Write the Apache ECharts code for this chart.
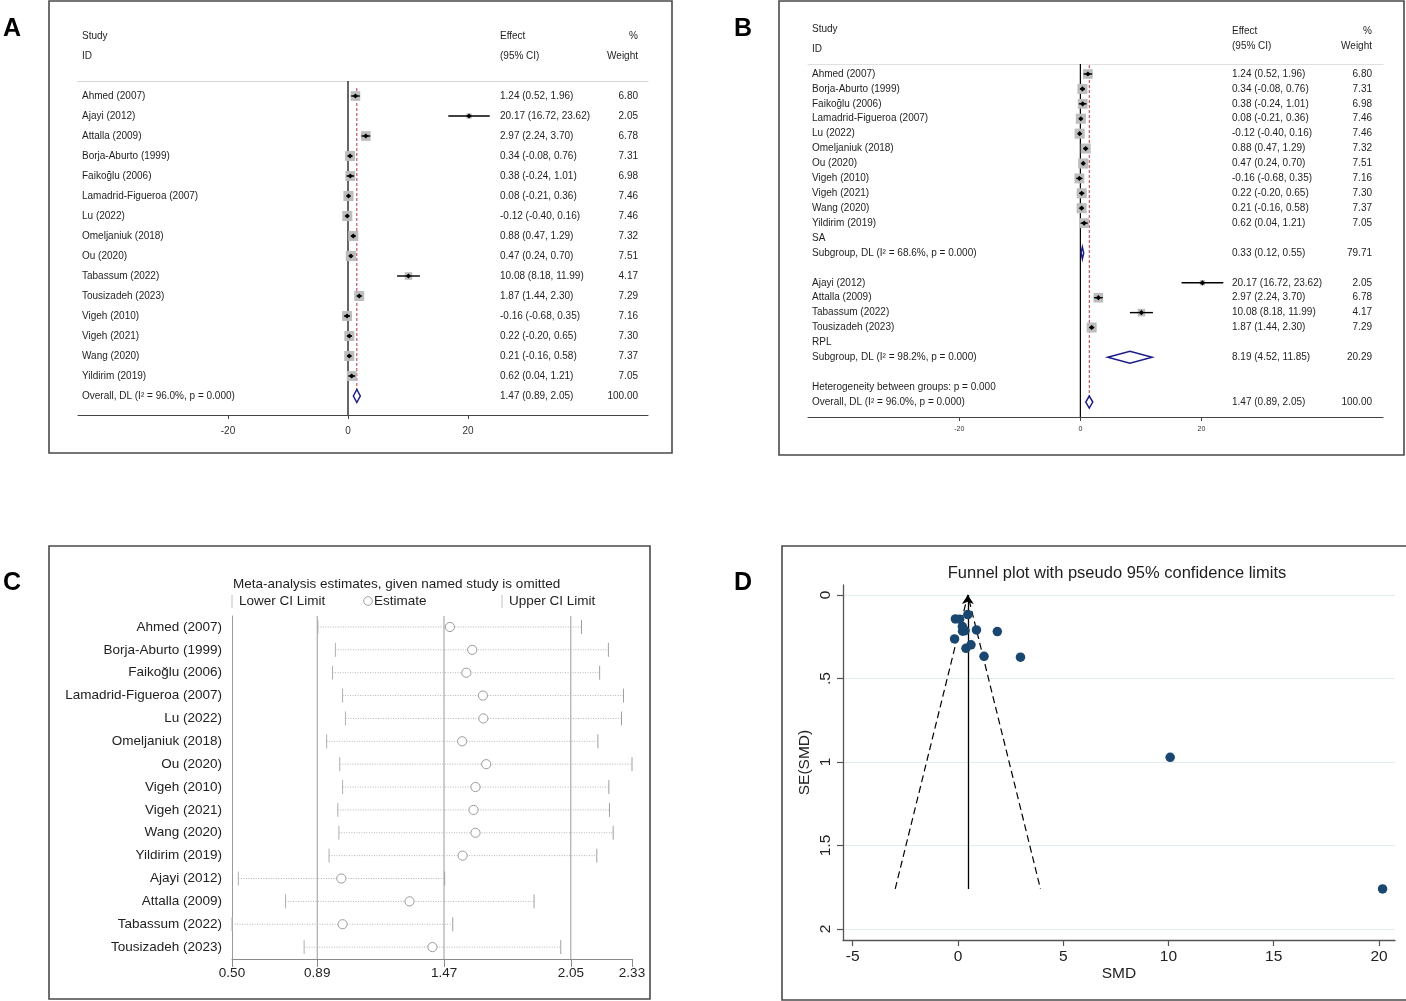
<!DOCTYPE html>
<html><head><meta charset="utf-8">
<script src="https://cdn.jsdelivr.net/npm/echarts@6/dist/echarts.min.js"></script>
<style>html,body{margin:0;padding:0;background:#fff}#c{width:1406px;height:1001px}</style>
</head><body><div id="c"></div><script>
// ---------------- DATA ----------------
const studies = ['Ahmed (2007)','Ajayi (2012)','Attalla (2009)','Borja-Aburto (1999)','Faikoğlu (2006)','Lamadrid-Figueroa (2007)','Lu (2022)','Omeljaniuk (2018)','Ou (2020)','Tabassum (2022)','Tousizadeh (2023)','Vigeh (2010)','Vigeh (2021)','Wang (2020)','Yildirim (2019)'];
const effect = [1.24,20.17,2.97,0.34,0.38,0.08,-0.12,0.88,0.47,10.08,1.87,-0.16,0.22,0.21,0.62];
const ciLow  = [0.52,16.72,2.24,-0.08,-0.24,-0.21,-0.40,0.47,0.24,8.18,1.44,-0.68,-0.20,-0.16,0.04];
const ciHigh = [1.96,23.62,3.70,0.76,1.01,0.36,0.16,1.29,0.70,11.99,2.30,0.35,0.65,0.58,1.21];
const weight = [6.80,2.05,6.78,7.31,6.98,7.46,7.46,7.32,7.51,4.17,7.29,7.16,7.30,7.37,7.05];
const overallLabel = 'Overall, DL (I² = 96.0%, p = 0.000)';
const overallVals = [1.47, 0.89, 2.05, 100.00]; // effect, low, high, weight
const groupSA = ['Ahmed (2007)','Borja-Aburto (1999)','Faikoğlu (2006)','Lamadrid-Figueroa (2007)','Lu (2022)','Omeljaniuk (2018)','Ou (2020)','Vigeh (2010)','Vigeh (2021)','Wang (2020)','Yildirim (2019)'];
const subSALabel = 'Subgroup, DL (I² = 68.6%, p = 0.000)';
const subSAVals = [0.33, 0.12, 0.55, 79.71];
const groupRPL = ['Ajayi (2012)','Attalla (2009)','Tabassum (2022)','Tousizadeh (2023)'];
const subRPLLabel = 'Subgroup, DL (I² = 98.2%, p = 0.000)';
const subRPLVals = [8.19, 4.52, 11.85, 20.29];
const hetLabel = 'Heterogeneity between groups: p = 0.000';
const forestTicks = [-20, 0, 20];

// leave-one-out (panel C)
const looNames = ['Ahmed (2007)','Borja-Aburto (1999)','Faikoğlu (2006)','Lamadrid-Figueroa (2007)','Lu (2022)','Omeljaniuk (2018)','Ou (2020)','Vigeh (2010)','Vigeh (2021)','Wang (2020)','Yildirim (2019)','Ajayi (2012)','Attalla (2009)','Tabassum (2022)','Tousizadeh (2023)'];
const looEst  = [1.497,1.599,1.572,1.648,1.650,1.553,1.663,1.614,1.605,1.614,1.555,1.000,1.312,1.006,1.417];
const looLow  = [0.893,0.973,0.960,1.006,1.019,0.933,0.993,1.006,0.984,0.989,0.944,0.529,0.745,0.500,0.830];
const looHigh = [2.099,2.222,2.182,2.291,2.282,2.174,2.330,2.224,2.227,2.244,2.169,1.473,1.882,1.510,2.004];
const looTicks = [0.50, 0.89, 1.47, 2.05, 2.33];

// funnel (panel D)
const funnelSE = [0.367,1.760,0.372,0.214,0.319,0.145,0.143,0.209,0.117,0.972,0.219,0.263,0.217,0.189,0.298];
const funnelCenter = 0.47;
const funnelLimX = [-2.98, 0.47, 3.92];
const funnelLimSE = [1.76, 0, 1.76];
const funnelXTicks = [-5,0,5,10,15,20];
const funnelYTicks = [0,0.5,1,1.5,2];

// ---------------- BUILD ----------------
const FONT = '"Liberation Sans", Arial, sans-serif';
const f2 = v => v.toFixed(2);
const mk = (name, v, kind) => ({name, es:v[0], lo:v[1], hi:v[2], w:v[3], kind});
const rowsA = studies.map((n,i)=>mk(n,[effect[i],ciLow[i],ciHigh[i],weight[i]],0));
rowsA.push(mk(overallLabel, overallVals, 1));
const rowsB = [];
groupSA.forEach(n=>rowsB.push(rowsA[studies.indexOf(n)]));
rowsB.push({name:'SA'});
rowsB.push(mk(subSALabel, subSAVals, 1));
rowsB.push({name:''});
groupRPL.forEach(n=>rowsB.push(rowsA[studies.indexOf(n)]));
rowsB.push({name:'RPL'});
rowsB.push(mk(subRPLLabel, subRPLVals, 1));
rowsB.push({name:''});
rowsB.push({name:hetLabel});
rowsB.push(mk(overallLabel, overallVals, 1));

const effTxt = r => (r && r.es != null) ? `${f2(r.es)} (${f2(r.lo)}, ${f2(r.hi)})` : '';
const wTxt = r => (r && r.w != null) ? f2(r.w) : '';
const range = n => Array.from({length:n},(_,i)=>i);

function forestRender(boxK, dHalf){
  return function(params, api){
    const row = api.value(0), es = api.value(1), lo = api.value(2), hi = api.value(3), w = api.value(4), kind = api.value(5);
    const c = api.coord([es,row]), l = api.coord([lo,row]), h = api.coord([hi,row]);
    if (kind === 1) {
      return {type:'polygon', shape:{points:[[l[0],c[1]],[c[0],c[1]-dHalf],[h[0],c[1]],[c[0],c[1]+dHalf]]},
        style:{fill:'#fff', stroke:'#1c1c86', lineWidth:1.5}};
    }
    const s = boxK*Math.sqrt(w);
    return {type:'group', children:[
      {type:'rect', shape:{x:c[0]-s/2, y:c[1]-s/2, width:s, height:s}, style:{fill:'#bdbdbd'}},
      {type:'line', shape:{x1:l[0], y1:c[1], x2:h[0], y2:c[1]}, style:{stroke:'#000', lineWidth:1.4}},
      {type:'polygon', shape:{points:[[c[0]-2.6,c[1]],[c[0],c[1]-2.6],[c[0]+2.6,c[1]],[c[0],c[1]+2.6]]}, style:{fill:'#000'}}
    ]};
  };
}
function vlineRender(color, width, dash){
  return function(params, api){
    const cs = params.coordSys;
    const x = api.coord([api.value(0), 0])[0];
    return {type:'line', shape:{x1:x, y1:cs.y, x2:x, y2:cs.y+cs.height},
      style:{stroke:color, lineWidth:width, lineDash:dash||null}};
  };
}
function looRender(params, api){
  const row = api.value(0), est = api.value(1), lo = api.value(2), hi = api.value(3);
  const y = api.coord([est,row])[1];
  const xe = api.coord([est,row])[0], xl = api.coord([lo,row])[0], xh = api.coord([hi,row])[0];
  return {type:'group', children:[
    {type:'line', shape:{x1:xl,y1:y,x2:xh,y2:y}, style:{stroke:'#b5b5b5', lineWidth:1, lineDash:[1,1.5]}},
    {type:'line', shape:{x1:xl,y1:y-7,x2:xl,y2:y+7}, style:{stroke:'#b0b0b0', lineWidth:1}},
    {type:'line', shape:{x1:xh,y1:y-7,x2:xh,y2:y+7}, style:{stroke:'#a0a0a0', lineWidth:1}},
    {type:'circle', shape:{cx:xe, cy:y, r:4.6}, style:{fill:'#fff', stroke:'#9a9a9a', lineWidth:1}}
  ]};
}

function labelAxis(grid, pos, rows, fmt, align, margin, min, max, size){
  return {gridIndex:grid, type:'value', inverse:true, min, max, position:pos,
    axisLine:{show:false}, axisTick:{show:false}, splitLine:{show:false},
    axisLabel:{customValues:range(rows.length), formatter:v=>fmt(rows[Math.round(v)]),
      align, margin, fontSize:size, color:'#1e1e1e', fontFamily:FONT, showMinLabel:true, showMaxLabel:true}};
}
function forestX(grid, pos, lineColor, showTicks, labelSize, labelMargin){
  return {gridIndex:grid, type:'value', min:-45, max:50, position:pos,
    axisLine:{show:true, onZero:false, lineStyle:{color:lineColor, width:1.2}},
    axisTick:{show:showTicks, customValues:forestTicks, length:4, lineStyle:{color:'#444'}},
    axisLabel:{show:showTicks, customValues:forestTicks, fontSize:labelSize, color:'#333', margin:labelMargin, fontFamily:FONT},
    splitLine:{show:false}};
}

const T = (text, x, y, size, align, extra) => ({type:'text', silent:true, z:10,
  style:Object.assign({text, x, y, fill:'#1e1e1e', font:`${size}px ${FONT}`,
    textAlign:align||'left', textVerticalAlign:'middle', align:align||'left', verticalAlign:'middle'}, extra||{})});
const R = (x,y,w,h) => ({type:'rect', silent:true, z:0, shape:{x,y,width:w,height:h}, style:{fill:'none', stroke:'#4a4a4a', lineWidth:1.6}});

const nA = rowsA.length, nB = rowsB.length;
const option = {
  animation:false,
  textStyle:{fontFamily:FONT},
  grid:[
    {left:78, top:81, width:570, height:334, outerBoundsMode:'none'},
    {left:808, top:64, width:575, height:353, outerBoundsMode:'none'},
    {left:232, top:616, width:400, height:343, outerBoundsMode:'none'},
    {left:843, top:585, width:552, height:355, outerBoundsMode:'none'}
  ],
  xAxis:[
    forestX(0,'bottom','#444',true,10,11),
    forestX(0,'top','#d6d6d6',false,10,0),
    forestX(1,'bottom','#444',true,7,9),
    forestX(1,'top','#e0e0e0',false,7,0),
    {gridIndex:2, type:'value', min:looTicks[0], max:looTicks[looTicks.length-1], position:'bottom',
      axisLine:{onZero:false, lineStyle:{color:'#8a8a8a', width:1}},
      axisTick:{customValues:looTicks, length:8, lineStyle:{color:'#8a8a8a'}},
      axisLabel:{customValues:looTicks, formatter:v=>v.toFixed(2), fontSize:13.5, color:'#222', margin:7, fontFamily:FONT, showMinLabel:true, showMaxLabel:true},
      splitLine:{show:false}},
    {gridIndex:3, type:'value', min:-5.46, max:20.76, position:'bottom',
      axisLine:{onZero:false, lineStyle:{color:'#555', width:1.3}},
      axisTick:{customValues:funnelXTicks, length:6, lineStyle:{color:'#555', width:1.2}},
      axisLabel:{customValues:funnelXTicks, fontSize:15.5, color:'#222', margin:9, fontFamily:FONT},
      splitLine:{show:false},
      name:'SMD', nameLocation:'middle', nameGap:25, nameTextStyle:{fontSize:15.5, color:'#222', fontFamily:FONT}}
  ],
  yAxis:[
    labelAxis(0,'left',rowsA,r=>r?r.name:'', 'left', -4, -0.75, 15.95, 10),
    labelAxis(0,'right',rowsA,effTxt, 'left', -148, -0.75, 15.95, 10),
    labelAxis(0,'right',rowsA,wTxt, 'right', -10, -0.75, 15.95, 10),
    labelAxis(1,'left',rowsB,r=>r?r.name:'', 'left', -4, -0.67, 23.0, 10),
    labelAxis(1,'right',rowsB,effTxt, 'left', -151, -0.67, 23.0, 10),
    labelAxis(1,'right',rowsB,wTxt, 'right', -11, -0.67, 23.0, 10),
    {gridIndex:2, type:'value', inverse:true, min:-0.48, max:14.52,
      axisLine:{show:true, onZero:false, lineStyle:{color:'#9a9a9a', width:1}}, axisTick:{show:false}, splitLine:{show:false},
      axisLabel:{customValues:range(looNames.length), formatter:v=>looNames[Math.round(v)], fontSize:13.5, color:'#222', margin:10, fontFamily:FONT}},
    {gridIndex:3, type:'value', inverse:true, min:-0.06, max:2.066,
      axisLine:{show:true, onZero:false, lineStyle:{color:'#555', width:1.3}},
      axisTick:{customValues:funnelYTicks, length:6, lineStyle:{color:'#555', width:1.2}},
      axisLabel:{customValues:funnelYTicks, rotate:90, margin:9, fontSize:15.5, color:'#222', fontFamily:FONT,
        formatter:v=> v===0 ? '0' : String(v).replace(/^0\./,'.')},
      splitLine:{show:true, lineStyle:{color:'#e2eef0', width:1}},
      name:'SE(SMD)', nameLocation:'middle', nameGap:30, nameRotate:90, nameTextStyle:{fontSize:15.5, color:'#222', fontFamily:FONT}}
  ],
  series:[
    // Panel A
    {type:'custom', xAxisIndex:0, yAxisIndex:0, renderItem:vlineRender('#000',1.2), data:[[0]], z:2, silent:true},
    {type:'line', xAxisIndex:0, yAxisIndex:0, symbol:'none', silent:true, z:3,
      data:[[overallVals[0],-0.4],[overallVals[0],nA-1+0.35]], lineStyle:{color:'#b03848', width:1, type:[3,2]}},
    {type:'custom', xAxisIndex:0, yAxisIndex:0, renderItem:forestRender(3.7,6.5), z:4, silent:true,
      encode:{x:[1,2,3], y:0}, data:rowsA.map((r,i)=>[i,r.es,r.lo,r.hi,r.w,r.kind])},
    // Panel B
    {type:'custom', xAxisIndex:2, yAxisIndex:3, renderItem:vlineRender('#000',1.2), data:[[0]], z:2, silent:true},
    {type:'line', xAxisIndex:2, yAxisIndex:3, symbol:'none', silent:true, z:3,
      data:[[overallVals[0],-0.6],[overallVals[0],nB-1+0.3]], lineStyle:{color:'#b03848', width:1, type:[3,2]}},
    {type:'custom', xAxisIndex:2, yAxisIndex:3, renderItem:forestRender(3.7,6), z:4, silent:true,
      encode:{x:[1,2,3], y:0},
      data:rowsB.map((r,i)=>r.es!=null?[i,r.es,r.lo,r.hi,r.w,r.kind]:null).filter(d=>d)},
    // Panel C
    {type:'custom', xAxisIndex:4, yAxisIndex:6, renderItem:vlineRender('#9a9a9a',1), z:2, silent:true,
      data:[[overallVals[1]],[overallVals[0]],[overallVals[2]]]},
    {type:'custom', xAxisIndex:4, yAxisIndex:6, renderItem:looRender, z:4, silent:true,
      encode:{x:[1,2,3], y:0}, data:looNames.map((n,i)=>[i,looEst[i],looLow[i],looHigh[i]])},
    // Panel D
    {type:'line', xAxisIndex:5, yAxisIndex:7, symbol:'none', silent:true, z:3,
      data:funnelLimX.map((x,i)=>[x,funnelLimSE[i]]), lineStyle:{color:'#000', width:1.2, type:[7,4]}},
    {type:'lines', coordinateSystem:'cartesian2d', xAxisIndex:5, yAxisIndex:7, silent:true, z:3,
      symbol:['none','arrow'], symbolSize:9,
      data:[{coords:[[funnelCenter, funnelLimSE[0]],[funnelCenter, 0]]}], lineStyle:{color:'#000', width:1.3, opacity:1}},
    {type:'scatter', xAxisIndex:5, yAxisIndex:7, symbolSize:9.5, z:5, silent:true,
      itemStyle:{color:'#1a476f', opacity:1}, data:effect.map((e,i)=>[e,funnelSE[i]])}
  ],
  graphic:[
    R(49,1,623,452), R(779,1,625,454), R(49,546,601,453), R(782,546,640,454),
    T('A',12,29,25,'center',{font:`bold 25px ${FONT}`, fill:'#000'}),
    T('B',743,29,25,'center',{font:`bold 25px ${FONT}`, fill:'#000'}),
    T('C',12,583,25,'center',{font:`bold 25px ${FONT}`, fill:'#000'}),
    T('D',743,583,25,'center',{font:`bold 25px ${FONT}`, fill:'#000'}),
    // A header
    T('Study',82,36,10), T('ID',82,56,10), T('Effect',500,36,10), T('(95% CI)',500,56,10),
    T('%',638,36,10,'right'), T('Weight',638,56,10,'right'),
    // B header
    T('Study',812,29,10), T('ID',812,49,10), T('Effect',1232,31,10), T('(95% CI)',1232,46,10),
    T('%',1372,31,10,'right'), T('Weight',1372,46,10,'right'),
    // C title & legend
    T('Meta-analysis estimates, given named study is omitted',233,584,13.5),
    {type:'line', silent:true, shape:{x1:232,y1:595,x2:232,y2:608}, style:{stroke:'#c0c0c0', lineWidth:1}},
    T('Lower CI Limit',239,601,13.5),
    {type:'circle', silent:true, shape:{cx:368,cy:601,r:4.3}, style:{fill:'#fff', stroke:'#a0a0a0', lineWidth:1}},
    T('Estimate',374,601,13.5),
    {type:'line', silent:true, shape:{x1:502,y1:595,x2:502,y2:608}, style:{stroke:'#c0c0c0', lineWidth:1}},
    T('Upper CI Limit',509,601,13.5),
    // D title
    T('Funnel plot with pseudo 95% confidence limits',1117,573,16.5,'center')
  ]
};
const chart = echarts.init(document.getElementById('c'), null, {renderer:'canvas'});
chart.setOption(option);
</script></body></html>
